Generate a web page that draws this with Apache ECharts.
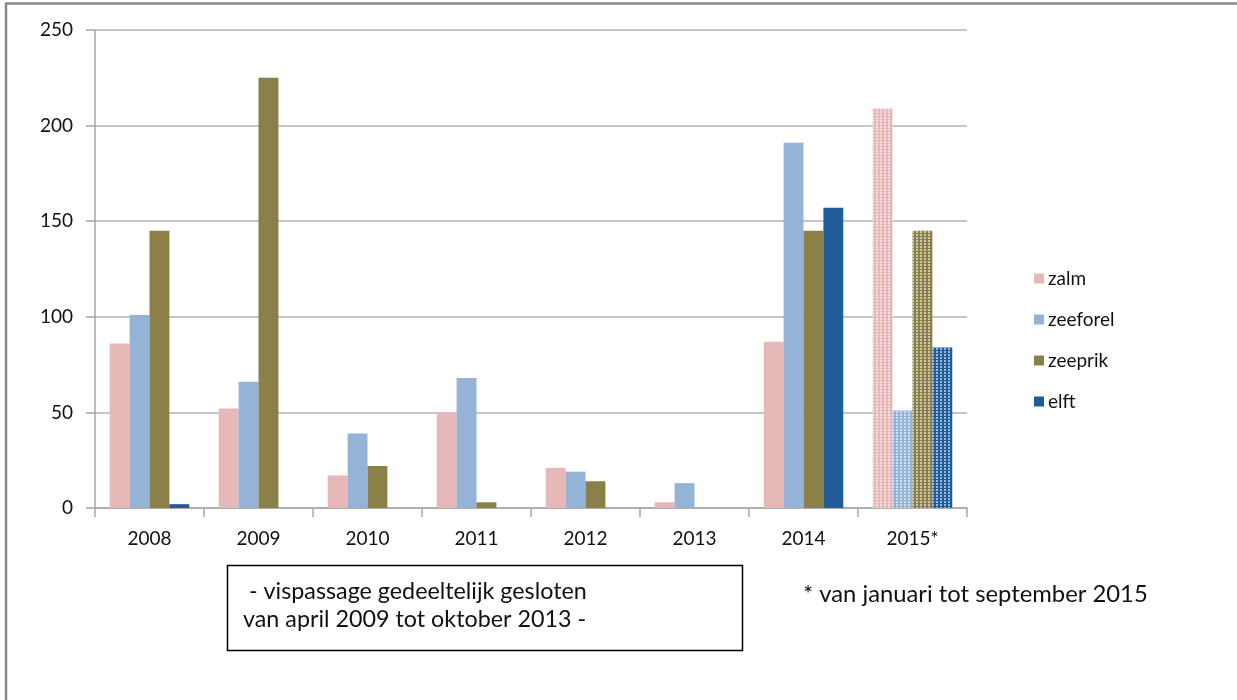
<!DOCTYPE html>
<html>
<head>
<meta charset="utf-8">
<script src="https://cdn.jsdelivr.net/npm/echarts@6/dist/echarts.min.js"></script>
<style>
  html, body { margin: 0; padding: 0; background: #fff; }
  #chart { width: 1237px; height: 700px; }
</style>
</head>
<body>
<div id="chart"></div>
<script>
// Fish counted at the fish passage per year
const years = ['2008', '2009', '2010', '2011', '2012', '2013', '2014', '2015*'];
const zalm     = [86, 52, 17, 50, 21, 3, 87, 209];
const zeeforel = [101, 66, 39, 68, 19, 13, 191, 51];
const zeeprik  = [145, 225, 22, 3, 14, 0, 145, 145];
const elft     = [2, 0, 0, 0, 0, 0, 157, 84];
const yTicks   = [0, 50, 100, 150, 200, 250];

const seriesNames  = ['zalm', 'zeeforel', 'zeeprik', 'elft'];
const seriesValues = [zalm, zeeforel, zeeprik, elft];
const seriesColors = ['#E6B9B8', '#95B3D7', '#8C8049', '#1F5C99'];

// Partial year (2015) bars get a fine dotted fill
const partialDecal = {
  symbol: 'rect',
  symbolSize: 1,
  dashArrayX: [2, 2],
  dashArrayY: [2, 1],
  rotation: 0,
  color: 'rgba(255,255,255,0.55)'
};

const FONT = 'Lato';

const chart = echarts.init(document.getElementById('chart'));
chart.setOption({
  animation: false,
  backgroundColor: '#fff',
  textStyle: { fontFamily: FONT },
  grid: { left: 95, right: 270, top: 30, bottom: 192 },
  legend: {
    orient: 'vertical',
    left: 1029,
    top: 264,
    itemGap: 22,
    itemWidth: 10,
    itemHeight: 10,
    icon: 'rect',
    textStyle: { fontSize: 19, color: '#111', fontFamily: FONT, padding: [0, 0, 0, -1] },
    data: seriesNames
  },
  xAxis: {
    type: 'category',
    data: years,
    axisLine: { lineStyle: { color: '#A6A6A6', width: 1.5 } },
    axisTick: { show: true, length: 9, lineStyle: { color: '#A6A6A6', width: 1.5 } },
    axisLabel: { fontSize: 19, color: '#111', margin: 21, fontFamily: FONT }
  },
  yAxis: {
    type: 'value',
    min: 0,
    max: 250,
    interval: 50,
    axisLine: { show: true, lineStyle: { color: '#A6A6A6', width: 1.5 } },
    axisTick: { show: true, length: 9, lineStyle: { color: '#A6A6A6', width: 1.5 } },
    splitLine: { lineStyle: { color: '#B3B3B3', width: 1.5 } },
    axisLabel: {
      fontSize: 19, color: '#111', margin: 22, fontFamily: FONT,
      formatter: v => (yTicks.includes(v) ? String(v) : '')
    }
  },
  series: seriesNames.map((name, i) => ({
    name,
    type: 'bar',
    barGap: '0%',
    barCategoryGap: '27%',
    itemStyle: { color: seriesColors[i] },
    data: seriesValues[i].map((v, j) =>
      years[j] === '2015*'
        ? { value: v, itemStyle: { color: seriesColors[i], decal: partialDecal } }
        : v)
  })),
  graphic: [
    // outer chart frame
    {
      type: 'polyline',
      shape: { points: [[6, 700], [6, 3.5], [1237, 3.5]] },
      style: { stroke: '#8A8A8A', lineWidth: 2.5, fill: null }
    },
    // note box
    {
      type: 'rect',
      shape: { x: 227.5, y: 565.5, width: 515, height: 85 },
      style: { stroke: '#000', lineWidth: 1.5, fill: '#fff' }
    },
    {
      type: 'text',
      x: 243, y: 591,
      style: { text: ' - vispassage gedeeltelijk gesloten', fontSize: 23.3, fontFamily: FONT, fill: '#111', verticalAlign: 'middle' }
    },
    {
      type: 'text',
      x: 243, y: 619,
      style: { text: 'van april 2009 tot oktober 2013 -', fontSize: 23.3, fontFamily: FONT, fill: '#111', verticalAlign: 'middle' }
    },
    {
      type: 'text',
      x: 803, y: 594,
      style: { text: '* van januari tot september 2015', fontSize: 23.8, fontFamily: FONT, fill: '#111', verticalAlign: 'middle' }
    }
  ]
});
</script>
</body>
</html>
